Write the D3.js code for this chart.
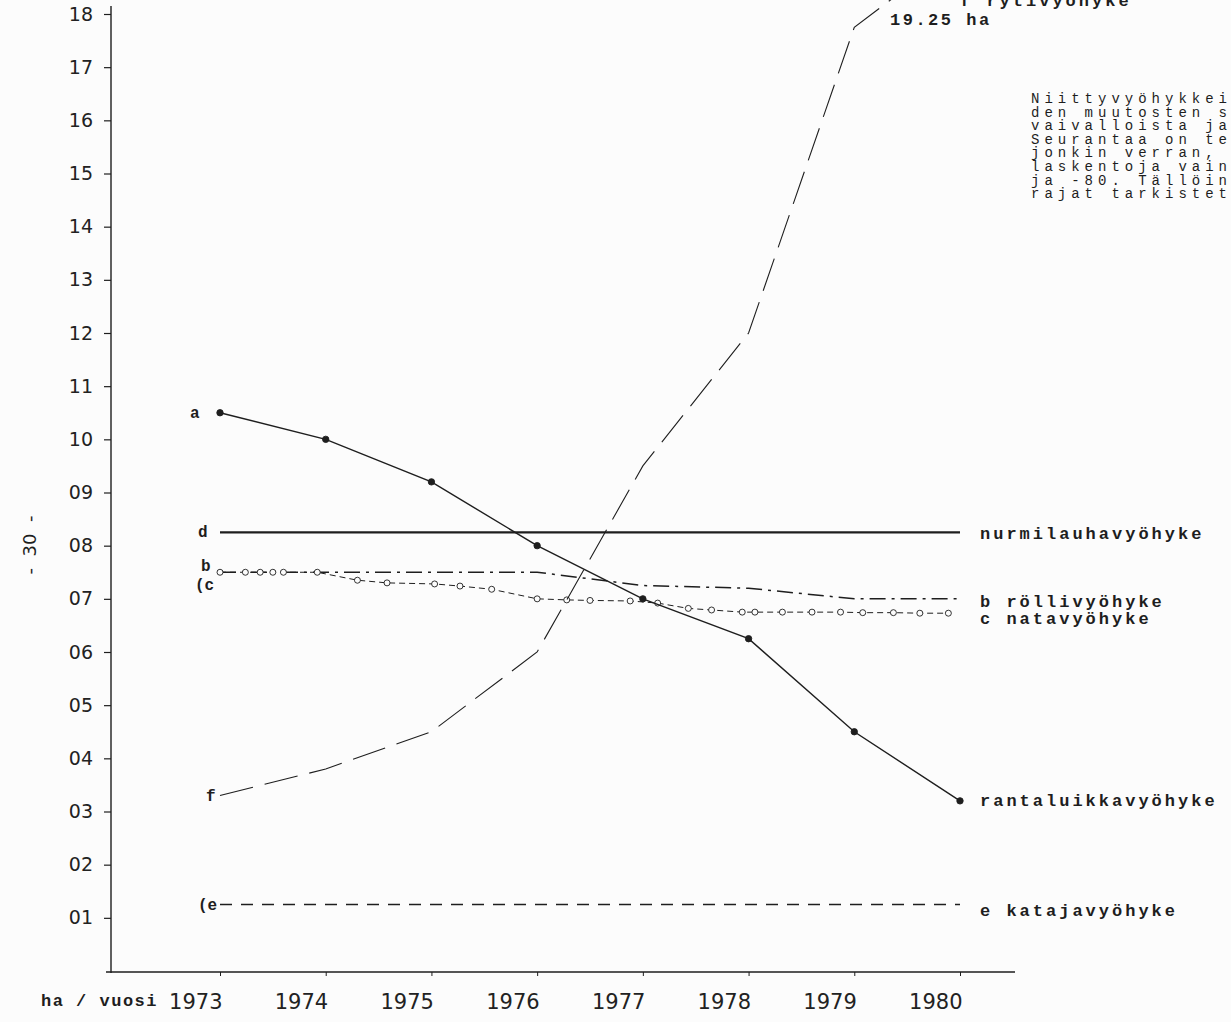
<!DOCTYPE html>
<html>
<head>
<meta charset="utf-8">
<script src="https://cdn.jsdelivr.net/npm/d3@7"></script>
<style>
  body { margin: 0; background: #fcfcfc; }
  svg { display: block; }
  .mono { font-family: "Liberation Mono", "DejaVu Sans Mono", monospace; fill: #1e1e1e; }
  .tick text { font-family: "DejaVu Sans", sans-serif; fill: #222; }
</style>
</head>
<body>
<svg id="chart" width="1231" height="1022"></svg>
<script>
// years on the x axis
const years = [1973, 1974, 1975, 1976, 1977, 1978, 1979, 1980];

// ha per zone
const aRantaluikka = [10.5, 10.0, 9.2, 8.0, 7.0, 6.25, 4.5, 3.2];
const bRolli = [7.5, 7.5, 7.5, 7.5, 7.25, 7.2, 7.0, 7.0];
const dNurmilauha = [8.25, 8.25, 8.25, 8.25, 8.25, 8.25, 8.25, 8.25];
const eKataja = [1.25, 1.25, 1.25, 1.25, 1.25, 1.25, 1.25, 1.25];
const fRyti = [3.3, 3.8, 4.5, 6.0, 9.5, 12.0, 17.75, 19.25];

// natavyöhyke was marked more often than once a year
const cYears = [1973.0, 1973.24, 1973.38, 1973.5, 1973.6, 1973.92, 1974.3, 1974.58, 1975.03, 1975.27,
    1975.57, 1976.0, 1976.28, 1976.5, 1976.88, 1977.14, 1977.43, 1977.65, 1977.94, 1978.06,
    1978.32, 1978.6, 1978.87, 1979.08, 1979.37, 1979.62, 1979.89];
const cNata = [7.5, 7.5, 7.5, 7.5, 7.5, 7.5, 7.35, 7.3, 7.28, 7.24,
    7.18, 7.0, 6.98, 6.97, 6.96, 6.92, 6.82, 6.79, 6.75, 6.75,
    6.75, 6.75, 6.75, 6.74, 6.74, 6.73, 6.73];

const yTicks = d3.range(1, 19);

const noteLines = ["Niittyvyöhykkei", "den muutosten s", "vaivalloista ja", "Seurantaa on te",
    "jonkin verran,", "laskentoja vain", "ja -80. Tällöin", "rajat tarkistet"];

const svg = d3.select("#chart");
const ink = "#1e1e1e";

const x = d3.scaleLinear().domain([1973, 1980]).range([220, 960]);
const y = d3.scaleLinear().domain([0, 18]).range([971, 14]);

// axes
const yAxis = d3.axisLeft(y)
    .tickValues(yTicks)
    .tickFormat(d3.format("02d"))
    .tickSize(7)
    .tickPadding(11)
    .tickSizeOuter(0);

const gy = svg.append("g").attr("transform", "translate(111,0)").call(yAxis);
gy.select(".domain").remove();
gy.selectAll(".tick line").attr("stroke", ink).attr("stroke-width", 1.2);
gy.selectAll(".tick text").style("font-size", "19px");

const xAxis = d3.axisBottom(x)
    .tickValues(years)
    .tickFormat(d3.format("d"))
    .tickSize(4)
    .tickSizeOuter(0);

const gx = svg.append("g").attr("transform", "translate(0,972)").call(xAxis);
gx.select(".domain").remove();
gx.selectAll(".tick line").attr("stroke", ink);
gx.selectAll(".tick text")
    .style("font-size", "21px")
    .attr("text-anchor", "end")
    .attr("x", 2)
    .attr("y", 22);

// axis lines drawn by hand, they overrun the ticks
svg.append("line").attr("x1", 111).attr("x2", 111).attr("y1", y(18.15)).attr("y2", 973)
    .attr("stroke", ink).attr("stroke-width", 1.4);
svg.append("line").attr("x1", 106).attr("x2", 1015).attr("y1", 972).attr("y2", 972)
    .attr("stroke", ink).attr("stroke-width", 1.4);

svg.append("clipPath").attr("id", "plot")
    .append("rect").attr("x", 0).attr("y", 0).attr("width", 1231).attr("height", 972);

function drawSeries(xs, vals, opts) {
    const line = d3.line().x(d => x(d[0])).y(d => y(d[1]));
    const pts = xs.map((d, i) => [d, vals[i]]);
    svg.append("path")
        .datum(pts)
        .attr("clip-path", "url(#plot)")
        .attr("d", line)
        .attr("fill", "none")
        .attr("stroke", ink)
        .attr("stroke-width", opts.width || 1.3)
        .attr("stroke-dasharray", opts.dash || null);
    if (opts.dots) {
        svg.append("g").selectAll("circle")
            .data(pts)
            .join("circle")
            .attr("cx", d => x(d[0]))
            .attr("cy", d => y(d[1]))
            .attr("r", opts.dots)
            .attr("fill", opts.open ? "#fcfcfc" : ink)
            .attr("stroke", ink)
            .attr("stroke-width", 0.9);
    }
}

drawSeries(years, dNurmilauha, { width: 2.2 });
drawSeries(years, eKataja, { width: 1.6, dash: "12,9" });
drawSeries(years, bRolli, { width: 1.5, dash: "16,6,3,6" });
drawSeries(cYears, cNata, { width: 1, dash: "6,4", dots: 3, open: true });
drawSeries(years, fRyti, { width: 1.1, dash: "34,12" });
drawSeries(years, aRantaluikka, { width: 1.4, dots: 3.2 });

// series letters next to the 1973 values
const startLabels = [
    { t: "a", v: aRantaluikka[0], dx: -30, dy: 0 },
    { t: "d", v: dNurmilauha[0], dx: -22, dy: 0 },
    { t: "b", v: bRolli[0], dx: -19, dy: -6 },
    { t: "(c", v: cNata[0], dx: -25, dy: 13 },
    { t: "f", v: fRyti[0], dx: -14, dy: 0 },
    { t: "(e", v: eKataja[0], dx: -22, dy: 0 }
];
svg.append("g").selectAll("text")
    .data(startLabels)
    .join("text")
    .attr("class", "mono")
    .attr("x", d => x(1973) + d.dx)
    .attr("y", d => y(d.v) + d.dy + 5)
    .style("font-size", "16px")
    .style("font-weight", "bold")
    .text(d => d.t);

// zone names on the right
const endLabels = [
    { t: "nurmilauhavyöhyke", v: dNurmilauha[7], dy: 2 },
    { t: "b röllivyöhyke", v: bRolli[7], dy: 3 },
    { t: "c natavyöhyke", v: cNata[cNata.length - 1], dy: 6 },
    { t: "rantaluikkavyöhyke", v: aRantaluikka[7], dy: 0 },
    { t: "e katajavyöhyke", v: eKataja[7], dy: 6 }
];
svg.append("g").selectAll("text")
    .data(endLabels)
    .join("text")
    .attr("class", "mono")
    .attr("x", 980)
    .attr("y", d => y(d.v) + d.dy + 5)
    .style("font-size", "17px")
    .style("font-weight", "bold")
    .style("letter-spacing", "3px")
    .text(d => d.t);

svg.append("text").attr("class", "mono")
    .attr("x", 960).attr("y", 6)
    .style("font-size", "17px").style("font-weight", "bold").style("letter-spacing", "3px")
    .text("f rytivyöhyke");
svg.append("text").attr("class", "mono")
    .attr("x", 890).attr("y", 25)
    .style("font-size", "17px").style("font-weight", "bold").style("letter-spacing", "2.5px")
    .text("19.25 ha");

// unit label
svg.append("text").attr("class", "mono")
    .attr("x", 41).attr("y", 1006)
    .style("font-size", "17px").style("font-weight", "bold").style("letter-spacing", "1.5px")
    .text("ha / vuosi");

// page number written sideways
svg.append("text")
    .attr("transform", "translate(36,545) rotate(-90)")
    .attr("text-anchor", "middle")
    .style("font-family", "DejaVu Sans, sans-serif")
    .style("font-size", "18px")
    .style("fill", ink)
    .style("white-space", "pre")
    .text("-  30  -");

// typed note, cut by the page edge
svg.append("g").selectAll("text")
    .data(noteLines)
    .join("text")
    .attr("class", "mono")
    .attr("x", 1031)
    .attr("y", (d, i) => 103 + i * 13.6)
    .style("font-size", "14px")
    .style("letter-spacing", "5px")
    .text(d => d);
</script>
</body>
</html>
